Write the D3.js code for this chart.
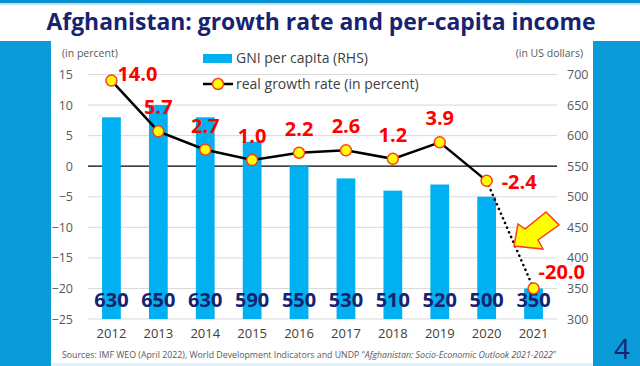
<!DOCTYPE html>
<html>
<head>
<meta charset="utf-8">
<script src="https://cdn.jsdelivr.net/npm/d3@7"></script>
<style>
  html, body { margin: 0; padding: 0; background: #fff; }
  svg { display: block; font-family: 'Open Sans', 'Noto Sans', sans-serif; }
</style>
</head>
<body>
<svg id="chart" width="640" height="366"></svg>
<script>
// chart values
var years = ['2012', '2013', '2014', '2015', '2016', '2017', '2018', '2019', '2020', '2021']
var gniPerCapita = [630, 650, 630, 590, 550, 530, 510, 520, 500, 350]
var growthRate = [14.0, 5.7, 2.7, 1.0, 2.2, 2.6, 1.2, 3.9, -2.4, -20.0]
var leftTicks = [15, 10, 5, 0, -5, -10, -15, -20, -25]
var rightTicks = [700, 650, 600, 550, 500, 450, 400, 350, 300]

var svg = d3.select('#chart')
var W = 640
var H = 366
var navy = '#172370'
var panel = '#0b9ad8'

// slide frame
svg.append('rect').attr('x', 0).attr('y', 0).attr('width', W).attr('height', 3).attr('fill', '#0b8fd3')
svg.append('rect').attr('x', 0).attr('y', 3).attr('width', W).attr('height', 2).attr('fill', '#bfe3f5')
svg.append('rect').attr('x', 0).attr('y', 41).attr('width', 51).attr('height', H - 41).attr('fill', panel)
svg.append('rect').attr('x', 593).attr('y', 41).attr('width', W - 593).attr('height', H - 41).attr('fill', panel)
svg.append('rect').attr('x', 51).attr('y', 363).attr('width', 542).attr('height', 3).attr('fill', '#dff1fa')

svg.append('text')
  .attr('x', 321).attr('y', 30)
  .attr('text-anchor', 'middle')
  .attr('fill', navy)
  .attr('font-size', 24).attr('font-weight', 700)
  .attr('textLength', 549).attr('lengthAdjust', 'spacingAndGlyphs')
  .text('Afghanistan: growth rate and per-capita income')

svg.append('text')
  .attr('x', 630).attr('y', 359)
  .attr('text-anchor', 'end')
  .attr('fill', navy).attr('font-size', 28)
  .text('4')

// scales
var x = d3.scaleBand().domain(years).range([88, 557]).paddingInner(0.6).paddingOuter(0.3)
var yL = d3.scaleLinear().domain([-25, 15]).range([319, 74.5])
var yR = d3.scaleLinear().domain([300, 700]).range([319, 74.5])
var cx = function (d, i) { return x(years[i]) + x.bandwidth() / 2 }

// gridlines
var grid = svg.append('g')
grid.selectAll('line').data(leftTicks).enter().append('line')
  .attr('x1', 88).attr('x2', 557)
  .attr('y1', function (d) { return yL(d) }).attr('y2', function (d) { return yL(d) })
  .attr('stroke', function (d) { return d === 0 ? '#000' : '#d9d9d9' })
  .attr('stroke-width', function (d) { return d === 0 ? 1.2 : 1 })

// axes (labels only)
var axL = svg.append('g').attr('transform', 'translate(73,0)')
  .call(d3.axisLeft(yL).tickValues(leftTicks).tickSize(0).tickPadding(0))
axL.select('.domain').remove()
axL.selectAll('text').attr('fill', '#595959').attr('font-size', 12.5).attr('font-family', 'Open Sans')

var axR = svg.append('g').attr('transform', 'translate(567,0)')
  .call(d3.axisRight(yR).tickValues(rightTicks).tickSize(0).tickPadding(0))
axR.select('.domain').remove()
axR.selectAll('text').attr('fill', '#595959').attr('font-size', 12.5).attr('font-family', 'Open Sans')

var axB = svg.append('g').attr('transform', 'translate(0,329)')
  .call(d3.axisBottom(x).tickSize(0).tickPadding(0))
axB.select('.domain').remove()
axB.selectAll('text').attr('fill', '#404040').attr('font-size', 13).attr('font-family', 'Open Sans')

svg.append('text').attr('x', 62).attr('y', 57)
  .attr('fill', '#595959').attr('font-size', 10.5).text('(in percent)')
svg.append('text').attr('x', 583).attr('y', 57).attr('text-anchor', 'end')
  .attr('fill', '#595959').attr('font-size', 10.5).text('(in US dollars)')

// bars
svg.append('g').selectAll('rect').data(gniPerCapita).enter().append('rect')
  .attr('x', function (d, i) { return x(years[i]) })
  .attr('width', x.bandwidth())
  .attr('y', function (d) { return yR(d) })
  .attr('height', function (d) { return yR(300) - yR(d) })
  .attr('fill', '#00b0f0')

svg.append('g').selectAll('text').data(gniPerCapita).enter().append('text')
  .attr('x', cx).attr('y', 307)
  .attr('text-anchor', 'middle')
  .attr('fill', navy).attr('font-size', 20).attr('font-weight', 700)
  .text(function (d) { return d })

// growth line: solid through 2020, dotted 2020-2021
var line = d3.line().x(function (d) { return d[0] }).y(function (d) { return d[1] })
var pts = growthRate.map(function (d, i) { return [cx(d, i), yL(d)] })
svg.append('path').attr('d', line(pts.slice(0, 9)))
  .attr('fill', 'none').attr('stroke', '#000').attr('stroke-width', 2.5)
svg.append('path').attr('d', line(pts.slice(8)))
  .attr('fill', 'none').attr('stroke', '#000').attr('stroke-width', 2.6)
  .attr('stroke-dasharray', '0.1 5').attr('stroke-linecap', 'round')

svg.append('g').selectAll('circle').data(growthRate).enter().append('circle')
  .attr('cx', cx).attr('cy', function (d) { return yL(d) })
  .attr('r', 5.5)
  .attr('fill', '#ffff00').attr('stroke', '#ff3c1e').attr('stroke-width', 1.5)

svg.append('g').selectAll('text').data(growthRate).enter().append('text')
  .attr('x', function (d, i) {
    if (i === 0) return cx(d, i) + 6
    if (i === 8) return cx(d, i) + 15
    if (i === 9) return cx(d, i) + 5
    return cx(d, i)
  })
  .attr('y', function (d, i) {
    if (i === 0) return yL(d) + 0
    if (i === 8) return yL(d) + 8
    if (i === 9) return yL(d) - 9
    return yL(d) - 17
  })
  .attr('text-anchor', function (d, i) { return (i === 0 || i >= 8) ? 'start' : 'middle' })
  .attr('fill', '#ff0000').attr('font-size', 20).attr('font-weight', 700)
  .text(function (d) { return d.toFixed(1) })

// arrow pointing at the 2021 drop
svg.append('path')
  .attr('d', 'M514,246 L518,224 L525,229 L546,212 L559,225 L538,240 L543,249 Z')
  .attr('fill', '#ffff00').attr('stroke', '#ff3c1e').attr('stroke-width', 1.5)
  .attr('stroke-linejoin', 'miter')

// legend
var lg = svg.append('g')
lg.append('rect').attr('x', 203).attr('y', 54).attr('width', 29).attr('height', 9).attr('fill', '#00b0f0')
lg.append('text').attr('x', 236).attr('y', 63).attr('fill', '#404040').attr('font-size', 14)
  .text('GNI per capita (RHS)')
lg.append('line').attr('x1', 203).attr('x2', 233).attr('y1', 84).attr('y2', 84)
  .attr('stroke', '#000').attr('stroke-width', 2.5)
lg.append('circle').attr('cx', 218).attr('cy', 84).attr('r', 5.5)
  .attr('fill', '#ffff00').attr('stroke', '#ff3c1e').attr('stroke-width', 1.5)
lg.append('text').attr('x', 236).attr('y', 89).attr('fill', '#404040').attr('font-size', 14)
  .text('real growth rate (in percent)')

// sources
var src = svg.append('text').attr('x', 62).attr('y', 358)
  .attr('fill', '#595959').attr('font-size', 9.5)
  .attr('textLength', 494).attr('lengthAdjust', 'spacingAndGlyphs')
src.append('tspan').text('Sources: IMF WEO (April 2022), World Development Indicators and UNDP \u201C')
src.append('tspan').attr('font-style', 'italic').text('Afghanistan: Socio-Economic Outlook 2021-2022')
src.append('tspan').text('\u201D')
</script>
</body>
</html>
